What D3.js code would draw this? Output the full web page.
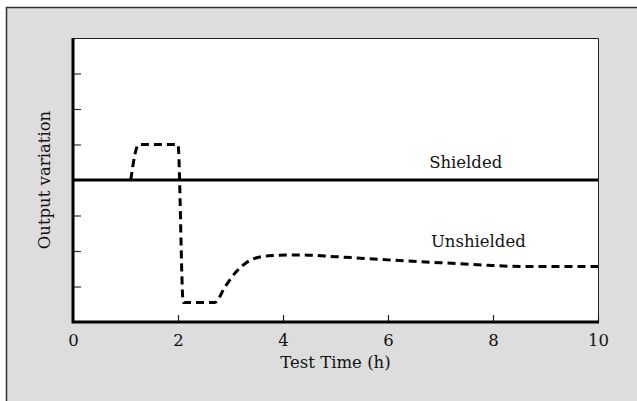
<!DOCTYPE html>
<html><head><meta charset="utf-8">
<script src="https://cdn.jsdelivr.net/npm/d3@7"></script>
<style>html,body{margin:0;padding:0;background:#fff;}svg{display:block;}</style>
</head><body>
<script>
// Data
const timeUnshielded = [1.1, 1.25, 1.6, 2.0, 2.1, 2.4, 2.7, 2.9, 3.1, 3.3, 3.5, 3.8, 4.3, 5, 6, 7, 8, 8.7, 10];
const valueUnshielded = [0, 1, 1, 1, -3.45, -3.45, -3.45, -3.0, -2.6, -2.33, -2.19, -2.13, -2.11, -2.16, -2.25, -2.33, -2.41, -2.44, -2.44];
const timeShielded = [0, 10];
const valueShielded = [0, 0];
const xTicks = [0, 2, 4, 6, 8, 10];
const yTicks = [-3, -2, -1, 0, 1, 2, 3];
const labels = ["Shielded", "Unshielded"];

const W = 637, H = 401;
const svg = d3.select("body").append("svg").attr("width", W).attr("height", H);
const font = "DejaVu Serif";
const fs = 16.5;

// outer frame
svg.append("rect").attr("x", 6).attr("y", 7).attr("width", W - 6).attr("height", H - 7).attr("fill", "#dcdddc");
svg.append("path").attr("d", `M6.5,${H} V7.5 H${W}`).attr("fill", "none").attr("stroke", "#333").attr("stroke-width", 1.5);

const L = 73, R = 598, T = 38, B = 322;
const x = d3.scaleLinear().domain([0, 10]).range([L, R]);
const y = d3.scaleLinear().domain([-4, 4]).range([B, T]);

svg.append("rect").attr("x", L).attr("y", T).attr("width", R - L).attr("height", B - T).attr("fill", "#fff");
svg.append("path").attr("d", `M${L},${T + 0.5} H${R + 0.5} V${B}`).attr("fill", "none").attr("stroke", "#222").attr("stroke-width", 1);

// x axis
const xAxis = d3.axisBottom(x).tickValues(xTicks).tickFormat(d3.format("d")).tickSize(0).tickPadding(12);
const gx = svg.append("g").attr("transform", `translate(0,${B})`).call(xAxis);
gx.select(".domain").remove();
gx.selectAll("text").attr("font-family", font).attr("font-size", fs).attr("fill", "#111");
const gxt = svg.append("g").attr("transform", `translate(0,${B})`).call(d3.axisTop(x).tickValues(xTicks.slice(1)).tickSize(7).tickFormat(""));
gxt.select(".domain").remove();
gxt.selectAll("line").attr("stroke", "#222").attr("stroke-width", 1.2);

// y ticks
const gy = svg.append("g").attr("transform", `translate(${L},0)`).call(d3.axisRight(y).tickValues(yTicks).tickSize(8).tickFormat(""));
gy.select(".domain").remove();
gy.selectAll("line").attr("stroke", "#333").attr("stroke-width", 1.2);

svg.append("path").attr("d", `M${L},${T} V${B} H${R + 1}`).attr("fill", "none").attr("stroke", "#000").attr("stroke-width", 3);

// lines
const line = d3.line().x(d => x(d[0])).y(d => y(d[1])).curve(d3.curveMonotoneX);
svg.append("path").datum(timeShielded.map((t, i) => [t, valueShielded[i]]))
  .attr("d", d3.line().x(d => x(d[0])).y(d => y(d[1]))).attr("fill", "none").attr("stroke", "#000").attr("stroke-width", 3);
svg.append("path").datum(timeUnshielded.map((t, i) => [t, valueUnshielded[i]]))
  .attr("d", line).attr("fill", "none").attr("stroke", "#000").attr("stroke-width", 3)
  .attr("stroke-dasharray", "8,5");

// labels
svg.append("text").attr("x", x(7.48)).attr("y", y(0) - 12).attr("text-anchor", "middle")
  .attr("font-family", font).attr("font-size", fs).attr("fill", "#111").text(labels[0]);
svg.append("text").attr("x", x(7.72)).attr("y", y(-1.9)).attr("text-anchor", "middle")
  .attr("font-family", font).attr("font-size", fs).attr("fill", "#111").text(labels[1]);

svg.append("text").attr("x", (L + R) / 2).attr("y", 368).attr("text-anchor", "middle")
  .attr("font-family", font).attr("font-size", fs).attr("fill", "#111").text("Test Time (h)");
svg.append("text").attr("transform", `translate(50,${(T + B) / 2}) rotate(-90)`).attr("text-anchor", "middle")
  .attr("font-family", font).attr("font-size", fs).attr("fill", "#111").text("Output variation");
</script>
</body></html>
